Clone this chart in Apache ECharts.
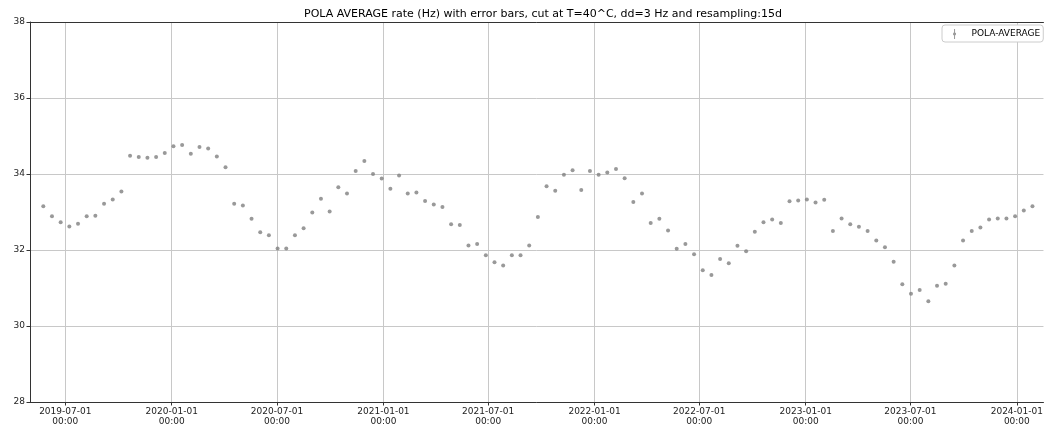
<!DOCTYPE html>
<html>
<head>
<meta charset="utf-8">
<script src="https://cdn.jsdelivr.net/npm/echarts@6/dist/echarts.min.js"></script>
<style>
html,body{margin:0;padding:0;background:#fff;}
#chart{width:1046px;height:428px;}
</style>
</head>
<body>
<div id="chart"></div>
<script>
// 15-day resampled bins, first bin start
const startDate = '2019-05-24';
const stepDays = 15;
const seriesName = 'POLA-AVERAGE';
const titleText = 'POLA AVERAGE rate (Hz) with error bars, cut at T=40^C, dd=3 Hz and resampling:15d';
const rateValues = [
  33.15, 32.89, 32.73, 32.62, 32.69, 32.89, 32.90, 33.22, 33.33, 33.54,
  34.48, 34.45, 34.43, 34.45, 34.55, 34.73, 34.76, 34.53, 34.71, 34.67,
  34.46, 34.18, 33.22, 33.17, 32.82, 32.47, 32.39, 32.04, 32.04, 32.39,
  32.57, 32.99, 33.35, 33.01, 33.65, 33.49, 34.08, 34.34, 34.00, 33.88,
  33.61, 33.96, 33.49, 33.51, 33.29, 33.20, 33.13, 32.68, 32.66, 32.12,
  32.16, 31.86, 31.68, 31.59, 31.86, 31.86, 32.12, 32.87, 33.68, 33.56,
  33.98, 34.10, 33.58, 34.08, 33.98, 34.04, 34.13, 33.89, 33.26, 33.49,
  32.71, 32.82, 32.51, 32.03, 32.16, 31.89, 31.47, 31.34, 31.76, 31.65,
  32.11, 31.97, 32.48, 32.73, 32.80, 32.71, 33.28, 33.30, 33.33, 33.25,
  33.32, 32.50, 32.83, 32.68, 32.61, 32.50, 32.25, 32.07, 31.69, 31.10,
  30.85, 30.95, 30.65, 31.06, 31.11, 31.59, 32.25, 32.50, 32.59, 32.80,
  32.83, 32.83, 32.89, 33.04, 33.15
];
const xMin = '2019-05-01';
const xMax = '2024-02-16';
const yMin = 28, yMax = 38, yStep = 2;

function parseDay(s){ const p = s.split('-').map(Number); return new Date(p[0], p[1]-1, p[2]).getTime(); }
const DAY = 86400000;
const t0 = parseDay(startDate);
const points = rateValues.map((v, i) => [t0 + i * stepDays * DAY, v]);

function pad(n){ return (n < 10 ? '0' : '') + n; }
const FONT = 'DejaVu Sans';
const AXC = '#333';
const GRIDC = '#c8c8c8';
const chart = echarts.init(document.getElementById('chart'), null, {renderer: 'canvas'});
chart.setOption({
  animation: false,
  backgroundColor: '#ffffff',
  title: {
    text: titleText,
    left: 538, top: 4, textAlign: 'center',
    textStyle: {fontFamily: FONT, fontSize: 11, fontWeight: 'normal', color: '#000'}
  },
  legend: {
    data: [{name: seriesName, icon: 'path://M4.5,0 L5.5,0 L5.5,3.5 A1.6,1.6 0 0 1 5.5,6.5 L5.5,10 L4.5,10 L4.5,6.5 A1.6,1.6 0 0 1 4.5,3.5 Z'}],
    left: 942, top: 25,
    itemWidth: 6, itemHeight: 10, itemGap: 8,
    padding: [4, 3, 3, 11],
    backgroundColor: '#fff', borderColor: '#cccccc', borderWidth: 1, borderRadius: 3,
    textStyle: {fontFamily: FONT, fontSize: 9, color: '#000', padding: [0, 0, 0, 9]},
    itemStyle: {color: '#808080'}
  },
  grid: {left: 30, top: 22, width: 1016, height: 380, show: false, containLabel: false},
  xAxis: [{
    type: 'time',
    min: parseDay(xMin), max: parseDay(xMax),
    minInterval: 180 * DAY, maxInterval: 185 * DAY,
    axisLine: {show: true, lineStyle: {color: AXC, width: 1}},
    axisTick: {show: true, length: 3.5, lineStyle: {color: AXC}},
    axisLabel: {
      fontFamily: FONT, fontSize: 9, color: '#222', lineHeight: 10, margin: 5,
      showMinLabel: false, showMaxLabel: false, hideOverlap: false,
      formatter: function (val) {
        const d = new Date(val);
        return d.getFullYear() + '-' + pad(d.getMonth() + 1) + '-' + pad(d.getDate()) + '\n' + pad(d.getHours()) + ':' + pad(d.getMinutes());
      }
    },
    splitLine: {show: true, showMinLine: false, showMaxLine: false, lineStyle: {color: GRIDC, width: 1}}
  }, {
    type: 'time', position: 'top',
    min: parseDay(xMin), max: parseDay(xMax),
    axisLine: {show: true, lineStyle: {color: AXC, width: 1}},
    axisTick: {show: false}, axisLabel: {show: false}, splitLine: {show: false}
  }],
  yAxis: {
    type: 'value', min: yMin, max: yMax, interval: yStep,
    axisLine: {show: true, lineStyle: {color: AXC, width: 1}},
    axisTick: {show: true, length: 3.5, lineStyle: {color: AXC}},
    axisLabel: {fontFamily: FONT, fontSize: 9, color: '#222', margin: 5},
    splitLine: {show: true, lineStyle: {color: GRIDC, width: 1}}
  },
  series: [{
    name: seriesName, type: 'scatter', data: points, xAxisIndex: 0,
    symbol: 'circle', symbolSize: 4,
    itemStyle: {color: '#808080'}
  }]
});
</script>
</body>
</html>
